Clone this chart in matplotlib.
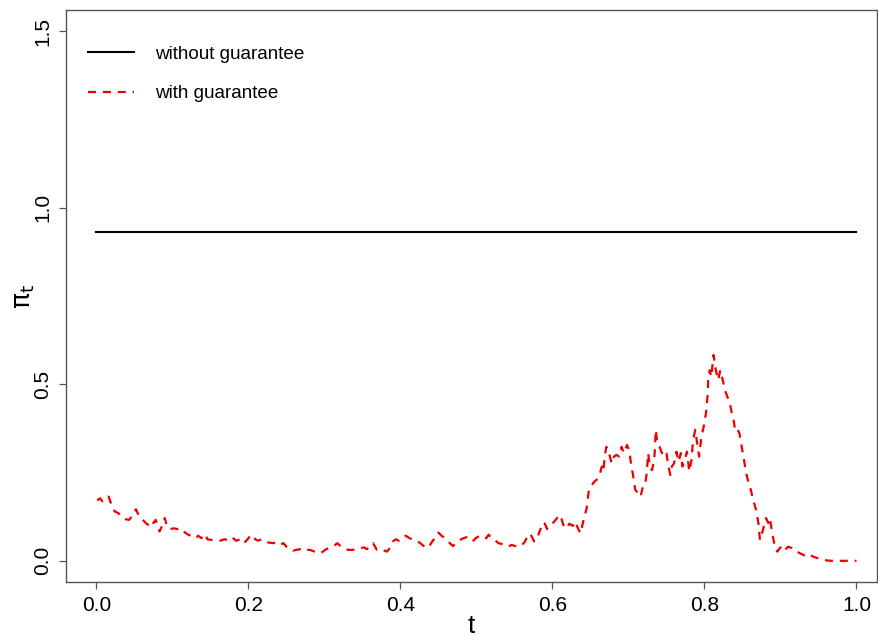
import numpy as np
import matplotlib
matplotlib.use("Agg")
import matplotlib.pyplot as plt

plt.rcParams['font.family'] = ['Liberation Sans', 'DejaVu Sans']

# pi_t sans garantie (constante)
t_sans = [0.0, 1.0]
pi_sans = [0.931, 0.931]

# pi_t avec garantie
t_avec = [0.001, 0.005, 0.008, 0.011, 0.016, 0.020, 0.024, 0.029, 0.033, 0.038,
          0.043, 0.046, 0.052, 0.056, 0.061, 0.065, 0.068, 0.071, 0.075, 0.078,
          0.083, 0.086, 0.090, 0.093, 0.097, 0.102, 0.106, 0.111, 0.115, 0.119,
          0.124, 0.130, 0.134, 0.138, 0.143, 0.146, 0.152, 0.157, 0.163, 0.168,
          0.173, 0.178, 0.184, 0.189, 0.194, 0.198, 0.204, 0.209, 0.213, 0.217,
          0.222, 0.226, 0.232, 0.236, 0.241, 0.246, 0.250, 0.255, 0.259, 0.263,
          0.268, 0.272, 0.277, 0.281, 0.288, 0.292, 0.296, 0.301, 0.305, 0.309,
          0.314, 0.317, 0.321, 0.326, 0.331, 0.337, 0.342, 0.348, 0.352, 0.356,
          0.361, 0.364, 0.369, 0.373, 0.377, 0.382, 0.385, 0.390, 0.394, 0.398,
          0.403, 0.407, 0.412, 0.416, 0.420, 0.425, 0.429, 0.434, 0.438, 0.442,
          0.447, 0.450, 0.454, 0.459, 0.462, 0.465, 0.469, 0.474, 0.478, 0.483,
          0.487, 0.491, 0.495, 0.499, 0.504, 0.508, 0.513, 0.516, 0.520, 0.524,
          0.529, 0.533, 0.538, 0.542, 0.546, 0.551, 0.555, 0.559, 0.564, 0.568,
          0.571, 0.576, 0.579, 0.584, 0.587, 0.590, 0.593, 0.597, 0.601, 0.605,
          0.609, 0.612, 0.615, 0.619, 0.622, 0.627, 0.630, 0.634, 0.637, 0.641,
          0.645, 0.648, 0.652, 0.655, 0.658, 0.662, 0.665, 0.667, 0.669, 0.671,
          0.675, 0.678, 0.681, 0.684, 0.688, 0.691, 0.694, 0.698, 0.701, 0.703,
          0.706, 0.709, 0.711, 0.713, 0.716, 0.719, 0.722, 0.724, 0.726, 0.728,
          0.731, 0.734, 0.736, 0.738, 0.741, 0.744, 0.747, 0.750, 0.752, 0.755,
          0.757, 0.760, 0.763, 0.766, 0.769, 0.771, 0.774, 0.777, 0.780, 0.783,
          0.785, 0.788, 0.791, 0.793, 0.796, 0.799, 0.802, 0.804, 0.805, 0.807,
          0.809, 0.812, 0.815, 0.818, 0.821, 0.824, 0.827, 0.830, 0.833, 0.836,
          0.838, 0.840, 0.842, 0.846, 0.849, 0.852, 0.855, 0.858, 0.861, 0.864,
          0.868, 0.871, 0.873, 0.877, 0.881, 0.884, 0.886, 0.890, 0.893, 0.896,
          0.899, 0.903, 0.906, 0.910, 0.915, 0.919, 0.925, 0.930, 0.934, 0.939,
          0.943, 0.948, 0.954, 0.961, 0.967, 0.985, 1.000]
pi_avec = [0.171, 0.177, 0.168, 0.175, 0.182, 0.158, 0.140, 0.135, 0.124, 0.118,
           0.116, 0.124, 0.146, 0.127, 0.116, 0.107, 0.102, 0.114, 0.107, 0.116,
           0.083, 0.097, 0.121, 0.097, 0.090, 0.092, 0.090, 0.092, 0.083, 0.076,
           0.071, 0.064, 0.071, 0.064, 0.076, 0.061, 0.059, 0.059, 0.057, 0.061,
           0.059, 0.067, 0.057, 0.061, 0.050, 0.059, 0.074, 0.061, 0.057, 0.061,
           0.055, 0.052, 0.050, 0.052, 0.045, 0.050, 0.040, 0.036, 0.029, 0.031,
           0.033, 0.036, 0.031, 0.031, 0.025, 0.022, 0.023, 0.031, 0.036, 0.040,
           0.045, 0.050, 0.042, 0.036, 0.031, 0.031, 0.033, 0.036, 0.038, 0.033,
           0.045, 0.050, 0.031, 0.033, 0.031, 0.026, 0.033, 0.055, 0.061, 0.057,
           0.067, 0.071, 0.064, 0.061, 0.055, 0.052, 0.045, 0.036, 0.042, 0.055,
           0.069, 0.080, 0.071, 0.064, 0.057, 0.050, 0.042, 0.050, 0.059, 0.064,
           0.067, 0.059, 0.055, 0.064, 0.071, 0.069, 0.064, 0.074, 0.064, 0.059,
           0.050, 0.048, 0.042, 0.040, 0.045, 0.042, 0.040, 0.042, 0.055, 0.074,
           0.076, 0.055, 0.059, 0.088, 0.108, 0.105, 0.090, 0.102, 0.108, 0.118,
           0.130, 0.118, 0.097, 0.092, 0.105, 0.099, 0.111, 0.090, 0.078, 0.116,
           0.149, 0.201, 0.215, 0.224, 0.229, 0.243, 0.267, 0.253, 0.300, 0.323,
           0.300, 0.276, 0.295, 0.300, 0.295, 0.323, 0.305, 0.328, 0.314, 0.281,
           0.243, 0.201, 0.196, 0.187, 0.182, 0.210, 0.215, 0.248, 0.305, 0.267,
           0.257, 0.286, 0.371, 0.333, 0.323, 0.305, 0.314, 0.305, 0.276, 0.243,
           0.267, 0.276, 0.309, 0.281, 0.305, 0.267, 0.286, 0.309, 0.253, 0.286,
           0.342, 0.371, 0.323, 0.295, 0.352, 0.380, 0.418, 0.465, 0.512, 0.540,
           0.521, 0.583, 0.540, 0.512, 0.540, 0.512, 0.484, 0.465, 0.451, 0.418,
           0.404, 0.375, 0.380, 0.361, 0.323, 0.286, 0.248, 0.220, 0.201, 0.173,
           0.144, 0.107, 0.059, 0.088, 0.121, 0.107, 0.121, 0.069, 0.036, 0.026,
           0.036, 0.042, 0.031, 0.040, 0.036, 0.029, 0.022, 0.017, 0.012, 0.017,
           0.012, 0.008, 0.005, 0.001, 0.000, 0.000, 0.000]

x_ticks = [0.0, 0.2, 0.4, 0.6, 0.8, 1.0]
x_labels = ["0.0", "0.2", "0.4", "0.6", "0.8", "1.0"]
y_ticks = [0.0, 0.5, 1.0, 1.5]
y_labels = ["0.0", "0.5", "1.0", "1.5"]

fig = plt.figure(figsize=(8.79, 6.36), dpi=100)
ax = fig.add_axes([0.0751, 0.0849, 0.9226, 0.8994])

ax.plot(t_sans, pi_sans, color='black', lw=1.5, label='without guarantee')
ax.plot(t_avec, pi_avec, color='#ee0000', lw=1.6, dashes=(3.6, 3.1),
        label='with guarantee')

ax.set_xlim(-0.04, 1.027)
ax.set_ylim(-0.06, 1.56)
ax.set_xticks(x_ticks)
ax.set_xticklabels(x_labels, fontsize=15)
ax.set_yticks(y_ticks)
ax.set_yticklabels(y_labels, fontsize=15, rotation=90, va='center')
ax.tick_params(length=5, width=0.9, color='#555555', pad=5)

for s in ax.spines.values():
    s.set_color('#555555')
    s.set_linewidth(1.0)

ax.set_xlabel('t', fontsize=19, labelpad=-1)
ax.set_ylabel(r'$\mathrm{\pi}_\mathrm{t}$', fontsize=19, labelpad=-3)

leg = ax.legend(loc='upper left', bbox_to_anchor=(0.0067, 0.9675), frameon=False,
                fontsize=13.6, handlelength=2.4, handletextpad=1.1,
                labelspacing=1.17)

fig.savefig('out.png', dpi=100)
